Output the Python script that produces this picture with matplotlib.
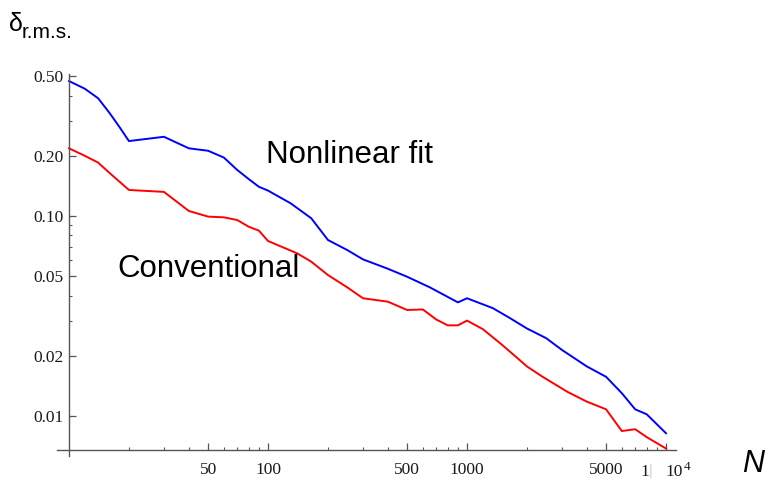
import matplotlib
matplotlib.use("Agg")
import matplotlib.pyplot as plt
from matplotlib.ticker import FixedLocator, NullFormatter, FixedFormatter

# r.m.s. error versus sample size N, nonlinear fit vs conventional estimate
n_fit = [10, 12, 14, 16, 18, 20, 30, 40, 50, 60, 70, 80, 90, 100, 130, 165, 200,
         250, 300, 400, 500, 650, 900, 1000, 1350, 1650, 2000, 2500, 3000, 4000,
         5000, 6000, 7000, 8000, 10000]
delta_fit = [0.473, 0.433, 0.388, 0.327, 0.277, 0.237, 0.249, 0.218, 0.212, 0.196,
             0.170, 0.153, 0.140, 0.134, 0.1157, 0.0974, 0.0759, 0.0676, 0.0607,
             0.0545, 0.0497, 0.0440, 0.0370, 0.0388, 0.0346, 0.0308, 0.0274,
             0.0245, 0.0214, 0.0177, 0.0157, 0.0130, 0.0108, 0.0102, 0.0082]

n_conv = [10, 12, 14, 16, 18, 20, 30, 40, 50, 60, 70, 80, 90, 100, 140, 165, 200,
          250, 300, 400, 500, 600, 700, 800, 900, 1000, 1200, 1500, 1800, 2000,
          2400, 3200, 4000, 5000, 6000, 7000, 8000, 10000]
delta_conv = [0.218, 0.200, 0.185, 0.164, 0.148, 0.135, 0.132, 0.106, 0.0993,
              0.0985, 0.0955, 0.0884, 0.0845, 0.0750, 0.0651, 0.0591, 0.0507,
              0.0440, 0.0388, 0.0373, 0.0339, 0.0341, 0.0304, 0.0284, 0.0284,
              0.0300, 0.0272, 0.0227, 0.0194, 0.0177, 0.0157, 0.0132, 0.0118,
              0.0108, 0.00841, 0.00859, 0.00784, 0.00688]

x_major = [50, 100, 500, 1000, 5000, 10000]
x_major_labels = ['50', '100', '500', '1000', '5000', '']
x_minor = [20, 30, 40, 60, 70, 80, 90, 200, 300, 400, 600, 700, 800, 900,
           2000, 3000, 4000, 6000, 7000, 8000, 9000]
y_major = [0.01, 0.02, 0.05, 0.10, 0.20, 0.50]
y_major_labels = ['0.01', '0.02', '0.05', '0.10', '0.20', '0.50']
y_minor = [0.03, 0.04, 0.06, 0.07, 0.08, 0.09, 0.3, 0.4]

W, H = 765, 479
fig = plt.figure(figsize=(W / 100, H / 100), dpi=100)
ax = fig.add_axes([57 / W, 1 - 456 / H, (676 - 57) / W, (456 - 74) / H])
ax.set_xscale('log')
ax.set_yscale('log')
ax.set_xlim(8.70, 11226)
ax.set_ylim(0.00631, 0.513)

ax.plot(n_fit, delta_fit, color='#0000ff', lw=1.4, clip_on=False)
ax.plot(n_conv, delta_conv, color='#ff0000', lw=1.4, clip_on=False)

# Mathematica-style axes crossing at (10, 0.0068)
axis_col = '#555555'
for s in ['top', 'right']:
    ax.spines[s].set_visible(False)
ax.spines['left'].set_position(('data', 10))
ax.spines['bottom'].set_position(('data', 0.0068))
for s in ['left', 'bottom']:
    ax.spines[s].set_color(axis_col)
    ax.spines[s].set_linewidth(1.0)

ax.xaxis.set_major_locator(FixedLocator(x_major))
ax.xaxis.set_major_formatter(FixedFormatter(x_major_labels))
ax.xaxis.set_minor_locator(FixedLocator(x_minor))
ax.xaxis.set_minor_formatter(NullFormatter())
ax.yaxis.set_major_locator(FixedLocator(y_major))
ax.yaxis.set_major_formatter(FixedFormatter(y_major_labels))
ax.yaxis.set_minor_locator(FixedLocator(y_minor))
ax.yaxis.set_minor_formatter(NullFormatter())

tick_size = 12.5
ax.tick_params(which='both', direction='in', color=axis_col, labelcolor='#1a1a1a')
ax.tick_params(which='major', length=5, width=0.9)
ax.tick_params(which='minor', length=2.5, width=0.8)
ax.tick_params(axis='x', which='major', pad=9)
ax.tick_params(axis='y', which='major', pad=4)
for lbl in ax.get_xticklabels() + ax.get_yticklabels():
    lbl.set_fontfamily('Liberation Serif')
    lbl.set_fontsize(tick_size)

# label at 10^4 sits to the right of its tick, next to a clipped "1"
xt = ax.get_xaxis_transform()
ax.text(9950, -0.022, '10', transform=xt, ha='left', va='top',
        fontfamily='Liberation Serif', fontsize=tick_size, color='#1a1a1a')
ax.text(12350, -0.014, '4', transform=xt, ha='left', va='top',
        fontfamily='Liberation Serif', fontsize=9.5, color='#1a1a1a')
ax.text(7450, -0.022, '1', transform=xt, ha='left', va='top',
        fontfamily='Liberation Serif', fontsize=tick_size, color='#1a1a1a')
ax.text(8150, -0.022, '|', transform=xt, ha='left', va='top',
        fontfamily='Liberation Sans', fontsize=10, color='#cccccc')

# curve labels
ax.text(98, 0.184, 'Nonlinear fit', fontfamily='Liberation Sans', fontsize=22.5,
        ha='left', va='baseline')
ax.text(17.4, 0.0496, 'Conventional', fontfamily='Liberation Sans', fontsize=22.5,
        ha='left', va='baseline')

# axis titles
fig.text(9 / W, 1 - 31 / H, 'δ', fontfamily='Liberation Sans', fontsize=18,
         ha='left', va='baseline')
fig.text(22 / W, 1 - 38 / H, 'r.m.s.', fontfamily='Liberation Sans', fontsize=15,
         ha='left', va='baseline')
fig.text(742 / W, 1 - 472 / H, 'N', fontfamily='Liberation Sans', fontstyle='italic',
         fontsize=22, ha='left', va='baseline')

fig.savefig('out.png', dpi=100)
